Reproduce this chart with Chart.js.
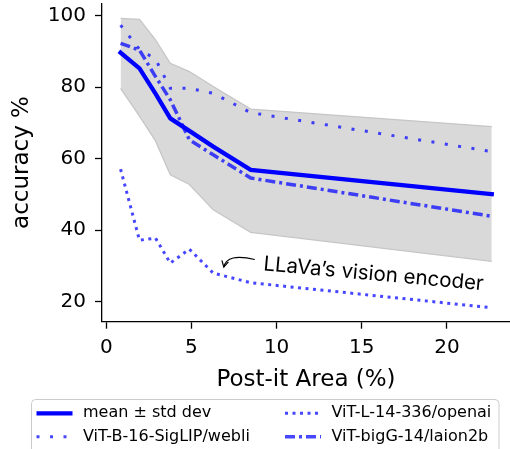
<!DOCTYPE html>
<html>
<head>
<meta charset="utf-8">
<script src="https://cdn.jsdelivr.net/npm/chart.js@4"></script>
<style>
  html, body { margin: 0; padding: 0; background: #fff; }
  #wrap { width: 510px; height: 449px; }
</style>
</head>
<body>
<div id="wrap"><canvas id="chart" width="510" height="449"></canvas></div>
<script>
// --- Data ---
const areas     = [0.84, 1.95, 2.89, 3.76, 4.88, 6.28, 8.48, 22.63];
const meanAcc   = [89.7, 85.3, 78.2, 71.3, 67.8, 63.4, 56.9, 50.1];
const upperAcc  = [99.3, 99.0, 93.3, 86.7, 84.4, 80.2, 73.9, 69.0];
const lowerAcc  = [79.7, 71.9, 65.0, 55.5, 52.8, 45.7, 39.4, 31.3];
const siglipAcc = [97.4, 90.6, 87.9, 79.7, 79.7, 78.3, 72.9, 62.0];
const openaiAcc = [57.1, 37.2, 37.8, 30.8, 34.7, 28.0, 25.3, 18.3];
const bigGAcc   = [92.3, 90.4, 83.0, 76.5, 65.3, 61.1, 54.6, 43.9];

const xTicks = [0, 5, 10, 15, 20];
const yTicks = [20, 40, 60, 80, 100];

// legend is laid out column by column, like matplotlib ncol=2
const legendCols = [
  ['mean ± std dev', 'ViT-B-16-SigLIP/webli'],
  ['ViT-L-14-336/openai', 'ViT-bigG-14/laion2b']
];

// annotation (data coordinates)
const noteText = 'LLaVa’s vision encoder';
const noteAt = { x: 9.20, y: 28.8 };
const arrowFrom = { x: 8.72, y: 31.8 };
const arrowCtrl = { x: 7.09, y: 33.7 };
const arrowTo = { x: 6.90, y: 29.7 };

const BLUE = '#0000ff';
const MODEL_BLUE = 'rgba(0,0,255,0.72)';
const FONT = 'DejaVu Sans';

const toXY = ys => areas.map((x, i) => ({ x: x, y: ys[i] }));

// --- Plugins ---

const mplLegend = {
  id: 'mplLegend',
  afterDraw(chart) {
    const ctx = chart.ctx;
    ctx.save();
    // frame
    const bx = 31.5, by = 399.5, bw = 467.5, bh = 60, r = 4;
    ctx.beginPath();
    ctx.moveTo(bx + r, by);
    ctx.lineTo(bx + bw - r, by);
    ctx.quadraticCurveTo(bx + bw, by, bx + bw, by + r);
    ctx.lineTo(bx + bw, by + bh);
    ctx.lineTo(bx, by + bh);
    ctx.lineTo(bx, by + r);
    ctx.quadraticCurveTo(bx, by, bx + r, by);
    ctx.fillStyle = 'rgba(255,255,255,0.8)';
    ctx.fill();
    ctx.strokeStyle = '#cccccc';
    ctx.lineWidth = 1;
    ctx.stroke();

    const colX = [36.5, 285];
    const rowY = [413.3, 436.7];
    legendCols.forEach((col, c) => {
      col.forEach((label, rr) => {
        const ds = chart.data.datasets.find(d => d.label === label);
        const y = rowY[rr];
        ctx.beginPath();
        ctx.setLineDash(ds.borderDash || []);
        ctx.lineWidth = ds.borderWidth;
        ctx.strokeStyle = ds.borderColor;
        ctx.lineCap = 'butt';
        ctx.moveTo(colX[c], y);
        ctx.lineTo(colX[c] + 36, y);
        ctx.stroke();
        ctx.setLineDash([]);
        ctx.fillStyle = '#000';
        ctx.font = '16px "' + FONT + '"';
        ctx.textBaseline = 'middle';
        ctx.textAlign = 'left';
        ctx.fillText(label, colX[c] + 46.5, y);
      });
    });
    ctx.restore();
  }
};

const noteArrow = {
  id: 'noteArrow',
  afterDatasetsDraw(chart) {
    const { ctx, scales: { x, y } } = chart;
    const px = p => ({ x: x.getPixelForValue(p.x), y: y.getPixelForValue(p.y) });
    const a = px(arrowFrom), c = px(arrowCtrl), b = px(arrowTo), t = px(noteAt);
    ctx.save();
    ctx.strokeStyle = '#000';
    ctx.lineWidth = 1.2;
    ctx.beginPath();
    ctx.moveTo(a.x, a.y);
    ctx.quadraticCurveTo(c.x, c.y, b.x, b.y);
    ctx.stroke();
    // open arrow head along the end tangent
    const ang = Math.atan2(b.y - c.y, b.x - c.x);
    const len = 7, spread = 0.5;
    ctx.beginPath();
    ctx.moveTo(b.x - len * Math.cos(ang - spread), b.y - len * Math.sin(ang - spread));
    ctx.lineTo(b.x, b.y);
    ctx.lineTo(b.x - len * Math.cos(ang + spread), b.y - len * Math.sin(ang + spread));
    ctx.stroke();

    ctx.translate(t.x, t.y);
    ctx.rotate(5.2 * Math.PI / 180);
    ctx.fillStyle = '#000';
    ctx.font = '20.5px Inter';
    ctx.textBaseline = 'alphabetic';
    ctx.textAlign = 'left';
    ctx.fillText(noteText, 0, 0);
    ctx.restore();
  }
};

// --- Chart ---

const lineBase = { pointRadius: 0, tension: 0, fill: false, borderCapStyle: 'butt' };

new Chart(document.getElementById('chart').getContext('2d'), {
  type: 'line',
  data: {
    datasets: [
      { ...lineBase, label: 'upper', data: toXY(upperAcc), borderColor: '#c6c6c6', borderWidth: 1.3,
        backgroundColor: '#d9d9d9', fill: '+1', order: 10 },
      { ...lineBase, label: 'lower', data: toXY(lowerAcc), borderColor: '#c6c6c6', borderWidth: 1.3, order: 9 },
      { ...lineBase, label: 'ViT-L-14-336/openai', data: toXY(openaiAcc), borderColor: MODEL_BLUE,
        borderWidth: 3, borderDash: [3, 4.5], order: 4 },
      { ...lineBase, label: 'ViT-B-16-SigLIP/webli', data: toXY(siglipAcc), borderColor: MODEL_BLUE,
        borderWidth: 3, borderDash: [3, 10.5], order: 3 },
      { ...lineBase, label: 'ViT-bigG-14/laion2b', data: toXY(bigGAcc), borderColor: MODEL_BLUE,
        borderWidth: 3.5, borderDash: [10, 4, 3, 4], order: 2 },
      { ...lineBase, label: 'mean ± std dev', data: toXY(meanAcc), borderColor: BLUE,
        borderWidth: 4.3, borderCapStyle: 'square', order: 1 }
    ]
  },
  options: {
    responsive: false,
    animation: false,
    events: [],
    layout: { padding: { top: 3.3, right: 0, bottom: 55, left: 0 } },
    plugins: { legend: { display: false }, tooltip: { enabled: false } },
    scales: {
      x: {
        type: 'linear', min: -0.25, max: 23.7,
        afterBuildTicks: s => { s.ticks = xTicks.map(v => ({ value: v })); },
        afterFit: s => { s.height = 72.3; s.paddingLeft = 0; s.paddingRight = 0; },
        grid: { drawOnChartArea: false, drawTicks: true, tickLength: 7, tickColor: '#000', tickWidth: 1.3 },
        border: { color: '#000', width: 1.3 },
        ticks: { color: '#000', font: { family: FONT, size: 20 }, padding: 7, maxRotation: 0, autoSkip: false },
        title: { display: true, text: 'Post-it Area (%)', color: '#000', font: { family: FONT, size: 23 }, padding: 0 }
      },
      y: {
        type: 'linear', min: 14.4, max: 103.5,
        afterBuildTicks: s => { s.ticks = yTicks.map(v => ({ value: v })); },
        afterFit: s => { s.width = 102; s.paddingTop = 0; s.paddingBottom = 0; },
        grid: { drawOnChartArea: false, drawTicks: true, tickLength: 7, tickColor: '#000', tickWidth: 1.3 },
        border: { color: '#000', width: 1.3 },
        ticks: { color: '#000', font: { family: FONT, size: 20 }, padding: 9, autoSkip: false },
        title: { display: true, text: 'accuracy %', color: '#000', font: { family: FONT, size: 23 }, padding: { top: 8, bottom: 0 } }
      }
    }
  },
  plugins: [noteArrow, mplLegend]
});
</script>
</body>
</html>
